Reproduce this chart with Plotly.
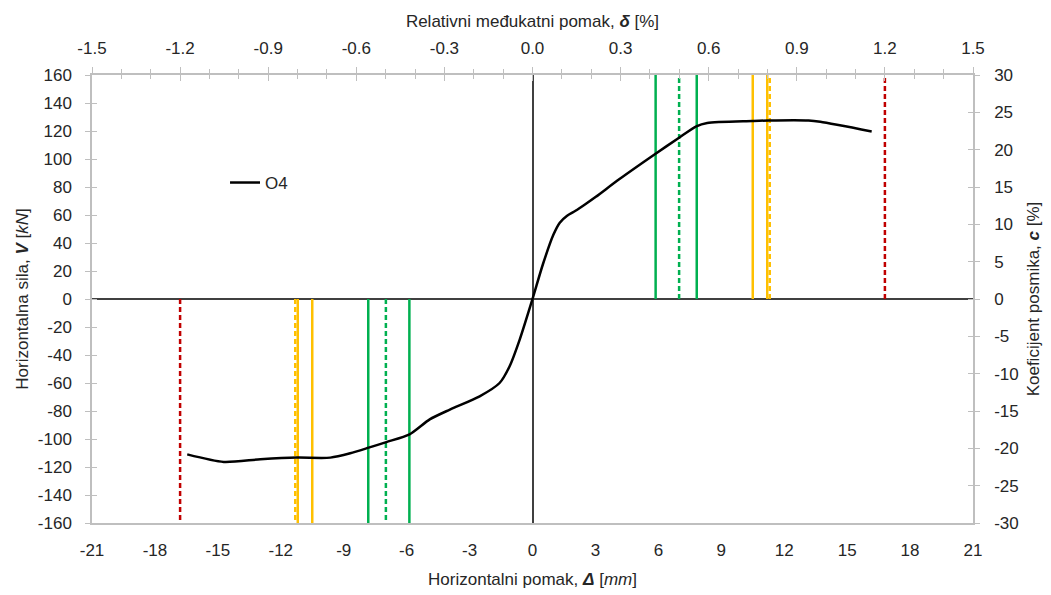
import plotly.graph_objects as go

# ---- data ----
displacement_mm = [-16.46, -14.72, -12.97, -11.23, -9.64, -8.69, -7.81, -6.97, -5.86, -4.90,
                   -3.94, -2.52, -1.57, -1.09, -0.61, 0.0, 0.50, 1.00, 1.30, 1.65,
                   2.05, 2.50, 3.02, 4.13, 5.85, 6.97, 7.81, 8.33, 10.47, 11.26, 13.16, 13.72, 16.17]
force_kN = [-111.0, -116.4, -114.5, -113.3, -113.3, -110.2, -106.2, -102.2, -96.7, -86.0,
            -79.0, -69.5, -60.0, -48.0, -29.0, 0.0, 25.0, 46.0, 54.5, 59.5,
            63.0, 67.5, 73.0, 85.5, 103.6, 115.0, 123.3, 125.7, 127.1, 127.5, 127.5, 126.6, 119.7]

green_solid = [-7.83, -5.87, 5.87, 7.83]
green_dashed = [-6.99, 6.99]
yellow_solid = [-11.19, -10.50, 10.50, 11.19]
yellow_dashed = [-11.31, 11.31]
red_dashed = [-16.8, 16.8]

x_range = [-21, 21]
y_range = [-160, 160]
drift_range = [-1.5, 1.5]
shear_range = [-30, 30]

x_tickvals = [-21, -18, -15, -12, -9, -6, -3, 0, 3, 6, 9, 12, 15, 18, 21]
x_ticktext = ["-21", "-18", "-15", "-12", "-9", "-6", "-3", "0", "3", "6", "9", "12", "15", "18", "21"]
drift_tickvals = [-1.5, -1.2, -0.9, -0.6, -0.3, 0.0, 0.3, 0.6, 0.9, 1.2, 1.5]
drift_ticktext = ["-1.5", "-1.2", "-0.9", "-0.6", "-0.3", "0.0", "0.3", "0.6", "0.9", "1.2", "1.5"]
y_tickvals = [-160, -140, -120, -100, -80, -60, -40, -20, 0, 20, 40, 60, 80, 100, 120, 140, 160]
y_ticktext = ["-160", "-140", "-120", "-100", "-80", "-60", "-40", "-20", "0",
              "20", "40", "60", "80", "100", "120", "140", "160"]
shear_tickvals = [-30, -25, -20, -15, -10, -5, 0, 5, 10, 15, 20, 25, 30]
shear_ticktext = ["-30", "-25", "-20", "-15", "-10", "-5", "0", "5", "10", "15", "20", "25", "30"]

series_name = "O4"

FONT = "Liberation Sans, Arial, sans-serif"
AXIS_COL = "#bfbfbf"
TXT = "#262626"

fig = go.Figure()

def add_vlines(xs, color, dash):
    for v in xs:
        end = y_range[1] if v > 0 else y_range[0]
        fig.add_trace(go.Scatter(x=[v, v], y=[0, end], mode="lines",
                                 line=dict(color=color, width=2.5, dash=dash),
                                 showlegend=False, hoverinfo="skip"))

add_vlines(green_solid, "#00b050", "solid")
add_vlines(green_dashed, "#00b050", "5px,3px")
add_vlines(yellow_solid, "#ffc000", "solid")
add_vlines(yellow_dashed, "#ffc000", "5px,3px")
add_vlines(red_dashed, "#c00000", "5px,3px")

fig.add_trace(go.Scatter(x=displacement_mm, y=force_kN, mode="lines", name=series_name,
                         line=dict(color="black", width=2.5, shape="spline", smoothing=0.7)))

# empty traces so the overlay axes exist
fig.add_trace(go.Scatter(x=[None], y=[None], xaxis="x2", yaxis="y", showlegend=False, hoverinfo="skip"))
fig.add_trace(go.Scatter(x=[None], y=[None], xaxis="x3", yaxis="y", showlegend=False, hoverinfo="skip"))
fig.add_trace(go.Scatter(x=[None], y=[None], xaxis="x", yaxis="y2", showlegend=False, hoverinfo="skip"))
fig.add_trace(go.Scatter(x=[None], y=[None], xaxis="x", yaxis="y3", showlegend=False, hoverinfo="skip"))
fig.add_trace(go.Scatter(x=[None], y=[None], xaxis="x", yaxis="y4", showlegend=False, hoverinfo="skip"))

tickfont = dict(family=FONT, size=17, color=TXT)
titlefont = dict(family=FONT, size=17, color=TXT)

fig.update_layout(
    width=1043, height=587,
    margin=dict(l=84, r=77.5, t=67, b=71.7),
    paper_bgcolor="white", plot_bgcolor="white",
    font=dict(family=FONT, size=17, color=TXT),
    legend=dict(x=0.151, y=0.759, xanchor="left", yanchor="middle",
                bgcolor="rgba(0,0,0,0)", font=dict(family=FONT, size=17, color=TXT),
                itemwidth=30),
    xaxis=dict(range=x_range, tickvals=x_tickvals, ticktext=x_ticktext, showgrid=False, automargin=False,
               zeroline=True, zerolinecolor="#404040", zerolinewidth=1.5,
               showline=True, linecolor=AXIS_COL, linewidth=1.5, mirror=False,
               ticks="", tickfont=tickfont, ticklabelstandoff=11,
               title=dict(text="Horizontalni pomak, <b><i>Δ</i></b> [<i>mm</i>]", font=titlefont, standoff=14)),
    xaxis2=dict(range=drift_range, tickvals=drift_tickvals, ticktext=drift_ticktext, overlaying="x",
                side="top", anchor="y", automargin=False,
                showgrid=False, zeroline=False, showline=True, linecolor=AXIS_COL, linewidth=1.5,
                ticks="outside", ticklen=6, tickcolor=AXIS_COL, tickwidth=1.2,
                minor=dict(dtick=0.1, tick0=0, ticks="outside", ticklen=4, tickcolor=AXIS_COL, showgrid=False),
                tickfont=tickfont, ticklabelstandoff=6,
                title=dict(text="Relativni međukatni pomak, <b><i>δ</i></b> [%]", font=titlefont, standoff=8)),
    xaxis3=dict(range=drift_range, tickvals=drift_tickvals, overlaying="x", side="top", anchor="y",
                automargin=False, showgrid=False, zeroline=False, showline=False,
                ticks="inside", ticklen=6, tickcolor=AXIS_COL, tickwidth=1.2,
                minor=dict(dtick=0.1, tick0=0, ticks="inside", ticklen=4, tickcolor=AXIS_COL, showgrid=False),
                showticklabels=False),
    yaxis=dict(range=y_range, tickvals=y_tickvals, ticktext=y_ticktext, showgrid=False, automargin=False,
               zeroline=True, zerolinecolor="#404040", zerolinewidth=1.5,
               showline=True, linecolor=AXIS_COL, linewidth=1.5,
               ticks="outside", ticklen=5, tickcolor=AXIS_COL, tickwidth=1.2,
               tickfont=tickfont, ticklabelstandoff=10,
               title=dict(text="Horizontalna sila, <b><i>V</i></b> [<i>kN</i>]", font=titlefont, standoff=5)),
    yaxis2=dict(range=shear_range, tickvals=shear_tickvals, ticktext=shear_ticktext, overlaying="y",
                side="right", anchor="x", automargin=False,
                showgrid=False, zeroline=False, showline=True, linecolor=AXIS_COL, linewidth=1.5,
                ticks="outside", ticklen=5, tickcolor=AXIS_COL, tickwidth=1.2,
                tickfont=tickfont, ticklabelstandoff=11,
                title=dict(text="Koeficijent posmika, <b><i>c</i></b> [%]", font=titlefont, standoff=9)),
    yaxis3=dict(range=y_range, tickvals=y_tickvals, overlaying="y", side="left", anchor="x",
                automargin=False, showgrid=False, zeroline=False, showline=False,
                ticks="inside", ticklen=5, tickcolor=AXIS_COL, tickwidth=1.2, showticklabels=False),
    yaxis4=dict(range=shear_range, tickvals=shear_tickvals, overlaying="y", side="right", anchor="x",
                automargin=False, showgrid=False, zeroline=False, showline=False,
                ticks="inside", ticklen=5, tickcolor=AXIS_COL, tickwidth=1.2, showticklabels=False),
)

fig.write_html("out.html")
